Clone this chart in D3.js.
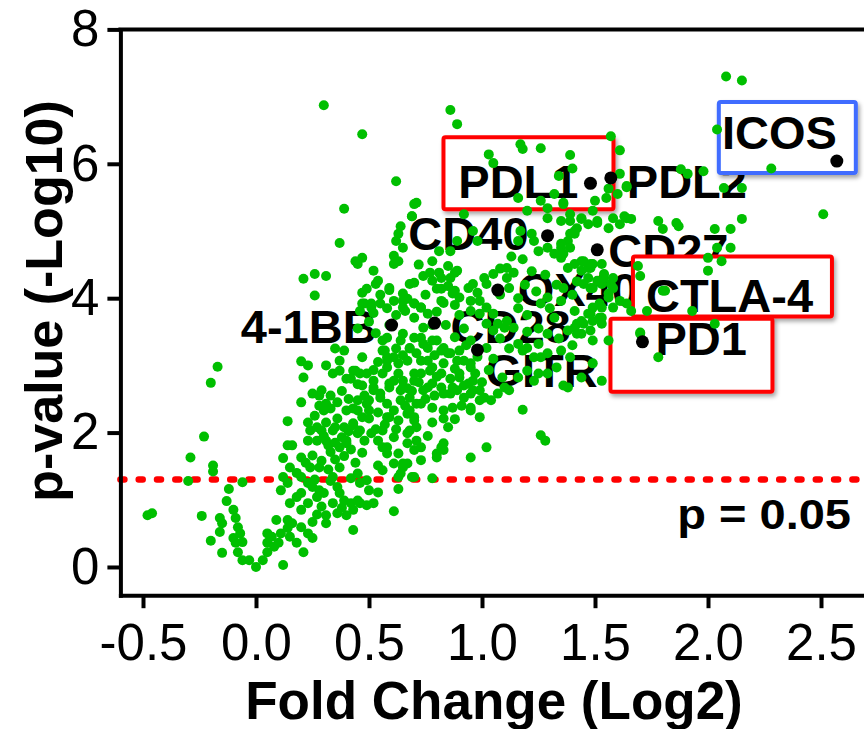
<!DOCTYPE html>
<html>
<head>
<meta charset="utf-8">
<script src="https://cdn.jsdelivr.net/npm/d3@7"></script>
<style>
  body { margin: 0; background: #fff; }
  svg { display: block; font-family: Arial, "Liberation Sans", sans-serif; }
</style>
</head>
<body>
<div id="chart"></div>
<script>
// Axis ticks
const xTicks = [-0.5, 0, 0.5, 1, 1.5, 2, 2.5];
const xTickLabels = ["-0.5", "0.0", "0.5", "1.0", "1.5", "2.0", "2.5"];
const yTicks = [0, 2, 4, 6, 8];
const pCutoff = 0.05;

// Highlighted genes
const geneNames = ["PDL1", "PDL2", "ICOS", "CD40", "CD27", "OX40", "4-1BB", "CD28", "GITR", "CTLA-4", "PD1"];
const geneFoldChange = [1.48, 1.57, 2.57, 1.29, 1.51, 1.07, 0.60, 0.79, 0.98, 1.69, 1.71];
const geneLogP = [5.71, 5.79, 6.04, 4.93, 4.72, 4.12, 3.60, 3.63, 3.23, 4.10, 3.35];

// All other genes: [fold change (log2), p-value (-log10)]
const otherGenes = [
  [-0.17,2.98],[-0.20,2.74],[-0.23,1.94],[-0.29,1.63],[-0.19,1.51],[-0.19,1.42],[-0.30,1.28],[-0.48,0.77],[-0.46,0.80],[-0.24,0.76],
  [-0.20,0.39],[-0.15,0.21],[-0.16,0.73],[-0.15,0.65],[-0.16,0.52],[-0.12,1.16],[-0.13,0.98],[-0.10,0.85],[-0.09,0.73],[-0.08,0.59],
  [-0.06,1.26],[-0.10,0.43],[-0.09,0.36],[-0.07,0.50],[-0.06,0.37],[-0.08,0.22],[-0.06,0.10],[-0.03,0.10],[0.00,0.00],[0.03,0.10],
  [0.05,0.22],[0.05,0.36],[0.07,0.45],[0.05,0.50],[0.08,0.30],[0.10,0.36],[0.11,0.50],[0.09,0.70],[0.12,0.03],[0.14,0.58],
  [0.15,0.45],[0.16,0.65],[0.14,0.70],[0.18,0.36],[0.21,0.22],[0.20,0.59],[0.23,0.50],[0.25,0.67],[0.25,0.43],[0.11,1.14],
  [0.12,1.34],[0.14,1.25],[0.15,0.95],[0.18,1.04],[0.20,0.85],[0.23,0.95],[0.12,1.62],[0.14,1.81],[0.16,1.81],[0.15,1.48],
  [0.20,1.63],[0.20,1.34],[0.14,2.17],[0.20,2.45],[0.20,3.06],[0.23,3.00],[0.21,2.82],[0.25,2.58],[0.29,2.63],[0.28,2.55],
  [0.31,3.00],[0.35,3.25],[0.37,3.07],[0.39,3.22],[0.30,2.33],[0.33,2.36],[0.31,2.43],[0.23,2.15],[0.24,2.03],[0.27,2.08],
  [0.29,2.03],[0.35,2.08],[0.23,1.88],[0.27,1.88],[0.31,1.88],[0.32,1.81],[0.33,1.71],[0.35,1.85],[0.38,1.93],[0.40,1.84],
  [0.25,1.66],[0.24,1.48],[0.28,1.48],[0.23,1.25],[0.25,1.19],[0.28,1.14],[0.27,1.04],[0.30,1.10],[0.34,1.34],[0.36,1.19],
  [0.37,1.10],[0.39,0.99],[0.42,0.95],[0.43,0.85],[0.45,0.99],[0.31,0.77],[0.31,0.65],[0.36,0.80],[0.40,0.77],[0.43,0.55],
  [0.37,1.48],[0.42,1.32],[0.45,1.39],[0.46,1.25],[0.49,1.29],[0.50,1.14],[0.54,1.11],[0.46,0.95],[0.49,0.92],[0.52,0.95],
  [0.61,0.83],[0.63,1.16],[0.69,1.34],[0.37,1.78],[0.40,1.88],[0.45,1.99],[0.43,2.11],[0.46,2.03],[0.50,2.21],[0.51,1.99],
  [0.54,1.88],[0.56,1.78],[0.58,1.69],[0.54,1.51],[0.61,1.54],[0.65,1.54],[0.64,1.39],[0.31,2.15],[0.36,2.21],[0.34,2.03],
  [0.39,2.08],[0.43,2.14],[0.40,2.33],[0.43,2.36],[0.45,2.48],[0.50,2.48],[0.52,2.63],[0.55,2.58],[0.59,2.67],[0.34,2.88],
  [0.37,2.92],[0.40,2.80],[0.43,2.92],[0.46,2.88],[0.47,2.70],[0.52,2.77],[0.56,3.22],[0.58,3.07],[0.61,3.12],[0.65,3.15],
  [0.68,3.25],[0.63,2.88],[0.65,2.77],[0.70,2.88],[0.67,2.66],[0.68,2.52],[0.71,2.43],[0.58,2.23],[0.63,2.18],[0.67,2.28],
  [0.70,2.18],[0.68,2.03],[0.71,1.88],[0.70,1.74],[0.67,1.54],[0.47,3.92],[0.55,3.92],[0.65,3.86],[0.70,3.92],[0.73,3.86],
  [0.49,2.43],[0.50,2.33],[0.45,2.33],[0.47,2.23],[0.54,2.30],[0.44,2.92],[0.42,2.80],[0.45,2.72],[0.48,2.55],
  [0.30,6.87],[0.47,6.44],[0.62,5.74],[0.71,5.42],[0.39,5.33],[0.69,5.22],[0.86,6.80],[0.89,6.59],[0.64,5.07],[0.63,4.96],
  [0.62,4.85],[0.65,4.75],[0.37,4.82],[0.44,4.55],[0.47,4.60],[0.45,4.51],[0.61,4.63],[0.61,4.51],[0.63,4.55],[0.21,4.29],
  [0.26,4.36],[0.31,4.33],[0.26,4.04],[0.52,4.41],[0.54,4.26],[0.53,4.21],[0.47,4.08],[0.48,3.92],[0.55,4.05],[0.59,4.12],
  [0.65,4.07],[0.68,4.21],[0.70,4.23],[0.74,4.33],[0.78,4.26],[0.81,4.38],[0.82,4.14],[0.85,4.48],[0.88,4.38],[0.65,3.96],
  [0.67,3.99],[0.70,3.92],[0.73,3.86],[0.66,3.81],[0.70,3.71],[0.83,3.93],[0.86,4.30],[0.88,4.11],[0.46,3.81],[0.51,3.92],
  [0.52,3.78],[0.86,4.70],[0.70,5.40],[0.69,5.22],[0.49,4.14],[0.51,3.86],[0.59,4.15],[0.61,3.96],[0.77,4.38],[0.89,4.41],
  [0.80,4.14],[0.82,3.96],[0.76,3.77],[0.74,3.56],[0.65,3.47],[0.70,3.41],[0.68,3.26],[0.56,3.37],[0.57,3.22],[0.58,2.97],
  [0.59,2.73],[0.64,2.63],[0.73,3.41],[0.76,3.26],[0.80,3.37],[0.82,3.22],[0.76,3.07],[0.78,2.97],[0.73,2.88],[0.76,2.67],
  [0.82,2.88],[0.85,3.18],[0.82,2.67],[0.86,2.58],[0.90,3.22],[0.92,3.07],[0.95,2.97],[0.96,2.77],[0.90,2.82],[0.89,2.63],
  [0.95,2.58],[0.99,2.63],[0.82,4.30],[0.85,4.18],[0.87,4.07],[0.90,4.01],[0.94,4.15],[0.96,4.21],[0.98,4.08],[0.95,3.96],
  [0.99,3.96],[1.01,4.30],[1.02,4.21],[1.05,4.36],[1.08,4.44],[1.11,4.30],[1.14,4.38],[1.11,4.45],[0.95,3.81],[0.99,3.77],
  [1.02,3.86],[1.05,3.77],[1.02,3.62],[1.07,3.62],[1.05,3.52],[1.10,3.56],[1.11,3.66],[1.14,3.56],[0.95,3.37],[1.02,3.26],
  [1.23,4.85],[1.25,4.70],[1.29,4.75],[1.32,4.66],[1.35,4.75],[1.38,4.85],[1.41,4.96],[1.42,5.04],[1.47,5.10],[1.51,5.15],
  [1.20,5.30],[1.29,5.19],[1.35,5.15],[1.39,5.25],[1.49,5.30],[1.56,5.04],[1.61,5.10],[1.64,5.19],[1.35,4.60],[1.38,4.45],
  [1.41,4.51],[1.44,4.41],[1.48,4.45],[1.53,4.51],[1.47,4.30],[1.49,4.15],[1.53,4.21],[1.58,4.30],[1.61,3.96],[1.58,3.86],
  [1.64,3.92],[1.41,3.81],[1.47,3.77],[1.49,3.86],[1.42,3.62],[1.48,3.52],[1.53,3.71],[1.42,3.47],[1.49,3.37],[1.56,3.37],
  [1.26,3.92],[1.29,4.01],[1.35,3.96],[1.32,3.71],[1.29,3.47],[1.38,3.52],[1.16,3.32],[1.20,3.26],[1.25,3.32],[1.23,3.12],
  [1.29,3.18],[1.35,3.22],[1.39,3.12],[1.44,3.47],[1.16,2.82],[1.23,2.77],[1.29,2.88],[1.33,2.97],[1.38,2.67],[1.44,2.82],
  [1.49,3.03],[1.53,2.77],[0.47,3.12],[0.49,2.88],[0.52,2.67],[0.55,2.52],
  [0.58,3.41],[0.64,3.37],[0.74,3.32],[0.78,3.37],[0.83,3.26],[0.86,3.18],[0.89,3.07],[0.58,3.12],[0.63,3.03],[0.67,3.07],
  [0.73,3.07],[0.77,2.92],[0.83,3.03],[0.90,2.88],[0.95,3.03],[0.94,2.73],[0.56,2.88],[0.61,2.77],[0.65,2.67],[0.70,2.77],
  [0.74,2.63],[0.78,2.73],[0.83,2.58],[0.87,2.67],[0.92,2.52],[0.96,2.63],[1.01,2.52],[0.58,2.43],[0.64,2.48],[0.68,2.33],
  [0.73,2.43],[0.78,2.37],[0.83,2.33],[0.87,2.37],[0.95,2.37],[0.99,2.48],[1.04,2.48],[1.07,2.58],[1.10,2.67],[1.09,2.82],
  [1.12,2.63],[0.59,2.23],[0.70,2.23],[0.71,2.08],[0.78,2.15],[0.83,2.21],[0.85,2.08],[0.95,2.33],[0.99,2.23],[0.56,2.03],
  [0.61,1.93],[0.67,1.99],[0.58,1.78],[0.63,1.69],[0.67,1.84],[0.73,1.78],[0.82,1.78],[0.80,1.69],[0.83,1.84],[0.73,1.59],
  [0.65,1.48],[0.56,1.44],[0.63,1.34],[0.70,1.34],[0.78,1.32],[0.95,1.63],[1.02,1.78],[1.18,2.34],[1.26,1.96],[1.28,1.88],
  [1.36,2.70],[1.25,2.88],[1.26,3.12],[1.18,3.22],[1.20,2.92],[1.70,3.47],[1.78,3.12],[0.83,1.74],[0.80,1.63],
  [1.61,5.85],[1.64,5.67],[1.60,5.55],[1.55,5.49],[1.50,5.45],[1.36,5.40],[1.39,5.15],[1.44,5.18],[1.51,5.12],[1.58,5.19],
  [1.63,5.22],[1.66,5.18],[1.41,5.00],[1.39,4.75],[1.44,4.55],[1.47,4.45],[1.78,5.15],[1.80,5.03],[1.86,5.12],[1.87,5.07],
  [2.03,5.03],[2.10,5.03],[2.15,5.18],[2.51,5.25],[2.00,4.60],[2.04,4.75],[2.10,4.75],[2.06,4.55],[2.00,4.41],[1.70,4.33],
  [1.73,3.81],[1.80,4.11],[1.54,4.36],[1.51,4.26],[1.48,4.15],[1.49,4.51],[1.45,4.55],[1.57,4.21],[1.56,4.07],[1.52,3.92],
  [1.48,3.77],[1.44,3.66],[1.41,3.56],[1.49,3.66],[1.52,3.71],[1.66,3.81],[1.70,3.49],[2.28,5.93],
  [2.08,7.30],[2.15,7.24],[1.57,6.41],[1.61,6.20],[1.64,5.65],[1.03,6.14],[1.05,6.01],[1.17,6.29],[1.18,6.22],[1.26,6.23],
  [1.39,6.13],[1.40,5.93],[1.34,5.82],[1.16,5.49],[1.32,5.55],[1.36,5.42],[1.26,5.45],[1.29,5.34],[1.56,5.63],[0.92,5.25],
  [0.96,5.00],[0.89,4.85],[0.98,4.85],[1.17,5.00],[1.16,4.85],[1.22,4.96],[1.35,4.81],[1.39,4.96],[1.36,4.66],[1.44,5.19],
  [2.04,6.51],[1.88,5.92],[1.91,5.85],[1.98,5.89],[2.07,5.64],[2.15,5.64],
  [1.48,4.51],[1.45,4.21],[1.54,4.30],[1.58,4.15],[1.56,4.01],[1.53,3.86],[1.53,3.62],[1.45,3.62],[1.69,4.48],[1.81,4.11],
  [1.93,3.81],[2.03,3.62],
  [0.18,1.40],[0.22,1.55],[0.26,1.30],[0.29,1.58],[0.32,1.45],[0.35,1.60],[0.30,1.95],[0.26,2.25],[0.28,2.40],[0.33,2.55],
  [0.36,2.45],[0.38,2.62],[0.41,2.50],[0.39,1.65],[0.42,1.75],[0.44,1.55],[0.47,1.70],[0.48,1.88],[0.41,2.02],[0.33,1.28],
  [0.29,0.90],[0.34,0.95],[0.38,0.88],[0.27,0.78],[0.20,1.10],
  [0.53,2.05],[0.57,2.12],[0.61,2.33],[0.62,2.05],[0.66,2.40],[0.69,2.62],[0.72,2.75],[0.75,2.50],[0.79,2.55],[0.80,2.83],
  [0.86,2.80],[0.88,2.95],[0.92,2.70],[0.97,2.88],[1.00,2.75],[1.03,2.93],[1.05,3.10],[0.98,3.13],[0.93,3.30],[0.88,3.42],
  [0.79,3.15],[0.71,3.18],[0.62,3.25],[0.54,3.05],[0.52,2.93],[0.76,1.95],[0.88,2.20],[0.91,2.40],
  [1.08,4.05],[1.12,4.15],[1.16,4.00],[1.19,4.20],[1.22,4.40],[1.18,4.58],[1.13,4.62],[1.28,4.35],[1.24,4.10],[1.30,3.85],
  [1.20,3.75],[1.16,3.85],[1.25,3.55],[1.34,3.40],[1.40,3.30],[1.08,3.40],[1.12,3.25],[1.20,3.50],[1.36,4.15],[1.42,4.25],
  [1.40,4.05],[1.33,4.20],
  [0.45,3.55],[0.50,3.65],[0.53,3.48],[0.59,3.60],[0.62,3.75],[0.58,3.85],[0.78,3.60],[0.80,3.80],[0.84,3.60],[0.92,3.55],
  [0.90,3.75],[0.88,3.90],[0.75,4.05],[0.72,4.50],[0.78,4.55],[0.81,4.70]
];

// Label placement (pixel offsets from each gene's dot)
const labelLayout = {
  "PDL1":   {dx: -12, dy: 15, anchor: "end"},
  "PDL2":   {dx: 16,  dy: 20, anchor: "start"},
  "ICOS":   {dx: 0,   dy: -12, anchor: "end"},
  "CD40":   {dx: -19, dy: 14, anchor: "end"},
  "CD27":   {dx: 11,  dy: 17, anchor: "start"},
  "OX40":   {dx: 20,  dy: 16, anchor: "start"},
  "4-1BB":  {dx: -15, dy: 18, anchor: "end"},
  "CD28":   {dx: 16,  dy: 20, anchor: "start"},
  "GITR":   {dx: 8,   dy: 37, anchor: "start"},
  "CTLA-4": {dx: 8,   dy: 21, anchor: "start"},
  "PD1":    {dx: 13,  dy: 13, anchor: "start"}
};
const boxLayout = {
  "PDL1":   {x0: -147, y0: -46, w: 170, h: 72, color: "#ff0000"},
  "ICOS":   {x0: -118, y0: -59, w: 137, h: 71, color: "#3f6cff"},
  "CTLA-4": {x0: -5,   y0: -35, w: 199, h: 60, color: "#ff0000"},
  "PD1":    {x0: -32,  y0: -23, w: 162, h: 73, color: "#ff0000"}
};
const hiddenDots = ["CTLA-4"];

const width = 864, height = 729;
const svg = d3.select("#chart").append("svg")
    .attr("width", width)
    .attr("height", height);

const defs = svg.append("defs");
const shadow = defs.append("filter").attr("id", "shadow")
    .attr("x", "-10%").attr("y", "-10%").attr("width", "130%").attr("height", "140%");
shadow.append("feDropShadow")
    .attr("dx", 2).attr("dy", 3).attr("stdDeviation", 2)
    .attr("flood-color", "#000").attr("flood-opacity", 0.35);

const x = d3.scaleLinear().domain([-0.6, 2.7]).range([120.4, 866.2]);
const y = d3.scaleLinear().domain([-0.42, 8]).range([595.2, 29.4]);

const genes = geneNames.map((name, i) => ({name, fc: geneFoldChange[i], p: geneLogP[i]}));

// Plain labels (under everything else)
svg.append("g").selectAll("text")
    .data(genes.filter(d => !boxLayout[d.name]))
    .enter().append("text")
    .attr("x", d => x(d.fc) + labelLayout[d.name].dx)
    .attr("y", d => y(d.p) + labelLayout[d.name].dy)
    .attr("text-anchor", d => labelLayout[d.name].anchor)
    .style("font-size", "47px")
    .style("font-weight", "bold")
    .text(d => d.name);

// Dots hidden under boxes
svg.append("g").selectAll("circle")
    .data(genes.filter(d => hiddenDots.includes(d.name)))
    .enter().append("circle")
    .attr("cx", d => x(d.fc))
    .attr("cy", d => y(d.p))
    .attr("r", 6.5)
    .style("fill", "#000");

// Boxed labels
const boxed = svg.append("g").selectAll("g")
    .data(genes.filter(d => boxLayout[d.name]))
    .enter().append("g");

boxed.append("rect")
    .attr("x", d => x(d.fc) + boxLayout[d.name].x0)
    .attr("y", d => y(d.p) + boxLayout[d.name].y0)
    .attr("width", d => boxLayout[d.name].w)
    .attr("height", d => boxLayout[d.name].h)
    .attr("rx", 2)
    .style("fill", "#fff")
    .style("stroke", d => boxLayout[d.name].color)
    .style("stroke-width", 4)
    .attr("filter", "url(#shadow)");

boxed.append("text")
    .attr("x", d => x(d.fc) + labelLayout[d.name].dx)
    .attr("y", d => y(d.p) + labelLayout[d.name].dy)
    .attr("text-anchor", d => labelLayout[d.name].anchor)
    .style("font-size", "47px")
    .style("font-weight", "bold")
    .text(d => d.name);

// Significance line
svg.append("line")
    .attr("x1", x.range()[0]).attr("x2", width)
    .attr("y1", y(-Math.log10(pCutoff))).attr("y2", y(-Math.log10(pCutoff)))
    .style("stroke", "#ff0000")
    .style("stroke-width", 6.5)
    .style("stroke-linecap", "round")
    .style("stroke-dasharray", "4 14.3");

svg.append("text")
    .attr("transform", "translate(851,529) scale(1.12,1)")
    .attr("text-anchor", "end")
    .style("font-size", "42px")
    .style("font-weight", "bold")
    .text(`p = ${pCutoff}`);

// Background genes
svg.append("g").selectAll("circle")
    .data(otherGenes)
    .enter().append("circle")
    .attr("cx", d => x(d[0]))
    .attr("cy", d => y(d[1]))
    .attr("r", 5)
    .style("fill", "#00bf00");

// Highlighted genes
svg.append("g").selectAll("circle")
    .data(genes.filter(d => !hiddenDots.includes(d.name)))
    .enter().append("circle")
    .attr("cx", d => x(d.fc))
    .attr("cy", d => y(d.p))
    .attr("r", 6.5)
    .style("fill", "#000");

// Axes
const xAxis = svg.append("g")
    .attr("transform", `translate(0,${y.range()[0]})`)
    .call(d3.axisBottom(x).tickValues(xTicks)
        .tickFormat((d, i) => xTickLabels[i])
        .tickSize(13).tickSizeOuter(0).tickPadding(16));

const yAxis = svg.append("g")
    .attr("transform", `translate(${x.range()[0]},0)`)
    .call(d3.axisLeft(y).tickValues(yTicks)
        .tickSize(13).tickSizeOuter(0).tickPadding(8));

[xAxis, yAxis].forEach(ax => {
    ax.select(".domain").style("stroke", "#000").style("stroke-width", 4).style("stroke-linecap", "square");
    ax.selectAll(".tick line").style("stroke", "#000").style("stroke-width", 4);
    ax.selectAll(".tick text")
        .style("font-family", "Arial, 'Liberation Sans', sans-serif")
        .style("font-size", "51px")
        .style("fill", "#000");
});

// Top frame line
svg.append("line")
    .attr("x1", x.range()[0]).attr("x2", width)
    .attr("y1", y(8)).attr("y2", y(8))
    .style("stroke", "#000")
    .style("stroke-width", 4)
    .style("stroke-linecap", "square");

// Axis titles
svg.append("text")
    .attr("x", 494)
    .attr("y", 719)
    .attr("text-anchor", "middle")
    .style("font-size", "53px")
    .style("font-weight", "bold")
    .text("Fold Change (Log2)");

svg.append("text")
    .attr("transform", "translate(62,301) rotate(-90)")
    .attr("text-anchor", "middle")
    .style("font-size", "52px")
    .style("font-weight", "bold")
    .text("p-value (-Log10)");
</script>
</body>
</html>
